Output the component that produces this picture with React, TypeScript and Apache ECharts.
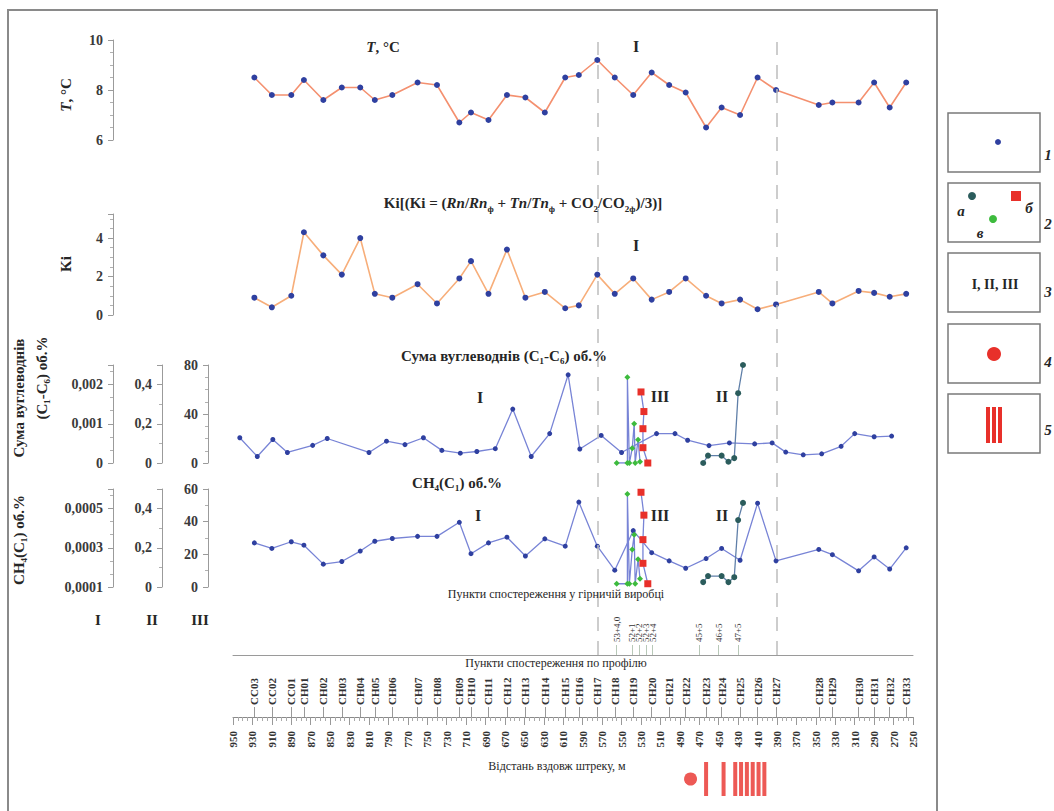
import React, { useEffect, useRef } from "react";
import * as echarts from "echarts";

const FONT = "'Liberation Serif', 'DejaVu Serif', serif";

// ---------- data ----------
const stations = ["CC03","CC02","CC01","CH01","CH02","CH03","CH04","CH05","CH06","CH07","CH08","CH09","CH10","CH11","CH12","CH13","CH14","CH15","CH16","CH17","CH18","CH19","CH20","CH21","CH22","CH23","CH24","CH25","CH26","CH27","CH28","CH29","CH30","CH31","CH32","CH33"];
const stationDist = [928, 910, 890, 877, 857, 838, 819, 804, 786, 760, 740, 717, 705, 687, 668, 649, 629, 608, 594, 575, 557, 538, 519, 501, 484, 463, 447, 428, 410, 391, 347, 333, 306, 290, 274, 257];
const temperature = [8.5, 7.8, 7.8, 8.4, 7.6, 8.1, 8.1, 7.6, 7.8, 8.3, 8.2, 6.7, 7.1, 6.8, 7.8, 7.7, 7.1, 8.5, 8.6, 9.2, 8.5, 7.8, 8.7, 8.2, 7.9, 6.5, 7.3, 7.0, 8.5, 8.0, 7.4, 7.5, 7.5, 8.3, 7.3, 8.3];
const kiIndex = [0.9, 0.4, 1.0, 4.3, 3.1, 2.1, 4.0, 1.1, 0.9, 1.6, 0.6, 1.9, 2.8, 1.1, 3.4, 0.9, 1.2, 0.35, 0.5, 2.1, 1.1, 1.9, 0.8, 1.2, 1.9, 1.0, 0.6, 0.8, 0.3, 0.55, 1.2, 0.6, 1.25, 1.15, 0.95, 1.1];
const ch4Values = [27, 23.6, 27.7, 25.6, 14, 15.6, 22, 28, 29.7, 31, 31, 39.6, 20.4, 27, 30.5, 19, 29.5, 25, 52, 25, 10.3, 34.5, 21, 16, 11.5, 17.4, 23.6, 16.4, 51.3, 16, 23, 19.8, 9.9, 18.4, 11, 24];

const hcDist = [943, 925, 909, 894, 868, 853, 810, 792, 773, 754, 735, 716, 699, 680, 662, 643, 624, 605, 593, 571, 550, 514, 495, 482, 460, 439, 413, 395, 381, 363, 344, 324, 310, 290, 272];
const hcValues = [20.6, 5.3, 19.2, 8.6, 14.4, 20, 8.6, 17.8, 15, 20.6, 10.3, 8, 9.4, 11.7, 44, 5.3, 24, 72, 11.4, 22.5, 8.6, 24, 24, 18.6, 14.2, 16.4, 15.6, 16.4, 8.9, 6.7, 7.5, 13.6, 24, 21.4, 22];

// observation points in the mine working (groups "в" green, "б" red, "а" teal)
const mineGreenDist = [555, 544, 544, 542, 539, 537, 536, 533, 531];
const mineGreenHc = [0, 0, 70, 0, 12, 32, 0, 19, 1];
const mineGreenCh4 = [2, 2, 57, 2, 23, 32, 2, 17, 5];
const mineRedDist = [530, 527, 528, 528, 523];
const mineRedHc = [58, 42, 28, 12.5, 0];
const mineRedCh4 = [58, 44, 29, 14.5, 2];
const mineTealDist = [466, 461, 447, 440, 434, 430, 425];
const mineTealHc = [0, 6, 6, 1, 4, 57, 80];
const mineTealCh4 = [3, 6.7, 6.7, 3, 6, 41, 51.5];

const mineLabelDist = [555, 539, 532, 525, 518, 470, 450, 430, 421];
const mineLabelNames = ["53+4,0", "52+1", "52+2", "52+3", "52+4", "45+5", "46+5", "47+5", "48+5"];

const boundaryDist = [575, 390];
const faultDist = [463, 445, 433, 427, 421, 415, 409, 403];
const anomalyDist = [479];

// ---------- helpers ----------
const pairs = (xs: number[], ys: number[]) => xs.map((x, i) => [x, ys[i]]);
const comma = (v: number) => String(+v.toFixed(6)).replace(".", ",");

const LINE_BLUE = "#7884d6";
const DOT_BLUE = "#2f40a0";
const GREEN = "#3dbb3d";
const RED = "#e8302a";
const TEAL = "#2b5c5c";

const distAxis = (gridIndex: number, extra: any = {}) => ({
  type: "value",
  gridIndex,
  min: 250,
  max: 950,
  inverse: true,
  show: false,
  splitLine: { show: false },
  ...extra,
});

const yAx = (gridIndex: number, min: number, max: number, interval: number, offset: number, split: number, showMax: boolean, fmt?: any) => ({
  type: "value",
  gridIndex,
  min,
  max,
  interval,
  offset,
  position: "left",
  axisLine: { show: true, lineStyle: { color: "#9b9b9b", width: 1 } },
  axisTick: { show: true, length: 5, lineStyle: { color: "#9b9b9b" } },
  minorTick: { show: true, splitNumber: split, length: 3, lineStyle: { color: "#b0b0b0" } },
  splitLine: { show: false },
  minorSplitLine: { show: false },
  axisLabel: {
    show: true,
    margin: 10,
    color: "#3a3a3a",
    fontFamily: FONT,
    fontSize: 14,
    fontWeight: "bold",
    showMaxLabel: showMax ? null : false,
    formatter: fmt || ((v: number) => comma(v)),
  },
});

const lineSeries = (name: string, xi: number, yi: number, data: any[], lineColor: string, dotColor: string, symbol = "circle", size = 5, width = 1.3) => ({
  name,
  type: "line",
  xAxisIndex: xi,
  yAxisIndex: yi,
  data,
  symbol,
  symbolSize: size,
  showSymbol: true,
  lineStyle: { color: lineColor, width },
  itemStyle: { color: dotColor },
  silent: true,
});

const txt = (x: number, y: number, text: string, o: any = {}) => ({
  type: "text",
  x,
  y,
  rotation: o.rot || 0,
  silent: true,
  z: 10,
  style: {
    text,
    fill: o.color || "#262626",
    fontFamily: FONT,
    fontSize: o.size || 14,
    fontWeight: o.weight || "bold",
    fontStyle: o.style || "normal",
    textAlign: o.align || "center",
    align: o.align || "center",
    textVerticalAlign: "middle",
    verticalAlign: "middle",
    lineHeight: o.lineHeight,
    rich: o.rich,
  },
});

const richItalic = (size: number) => ({ fontFamily: FONT, fontSize: size, fontWeight: "bold", fontStyle: "italic", fill: "#262626", lineHeight: 20 });

function buildOption() {
  const grids = [
    { left: 233, width: 680, top: 42, height: 613 }, // overlay
    { left: 233, width: 680, top: 40, height: 100 }, // T
    { left: 233, width: 680, top: 214, height: 101 }, // Ki
    { left: 233, width: 680, top: 365, height: 98 }, // HC
    { left: 233, width: 680, top: 489, height: 98 }, // CH4
    { left: 233, width: 680, top: 660, height: 57 }, // profile
    { left: 233, width: 680, top: 761, height: 36 }, // faults
  ];

  const xAxis = [
    distAxis(0, {
      show: true,
      position: "bottom",
      axisLine: { show: true, lineStyle: { color: "#9a9a9a", width: 1 } },
      axisTick: { show: true, inside: true, length: 10, customValues: mineLabelDist, lineStyle: { color: "#b8c8b8" } },
      minorTick: { show: false },
      axisLabel: {
        show: true,
        inside: true,
        rotate: 90,
        margin: 13,
        customValues: mineLabelDist,
        color: "#333",
        fontFamily: FONT,
        fontSize: 9,
        formatter: (v: number) => mineLabelNames[mineLabelDist.indexOf(v)] ?? "",
      },
    }),
    distAxis(1),
    distAxis(2),
    distAxis(3),
    distAxis(4),
    distAxis(5, {
      show: true,
      position: "bottom",
      interval: 20,
      axisLine: { show: true, lineStyle: { color: "#8a8a8a", width: 1 } },
      axisTick: { show: true, length: 8, lineStyle: { color: "#999" } },
      minorTick: { show: true, splitNumber: 4, length: 4, lineStyle: { color: "#aaa" } },
      axisLabel: {
        show: true,
        rotate: 90,
        margin: 14,
        color: "#333",
        fontFamily: FONT,
        fontSize: 11,
        fontWeight: "bold",
        formatter: (v: number) => String(Math.round(v)),
      },
    }),
    distAxis(5, {
      show: true,
      position: "bottom",
      axisLine: { show: false },
      axisTick: { show: true, inside: true, length: 10, customValues: stationDist, lineStyle: { color: "#999" } },
      minorTick: { show: false },
      axisLabel: {
        show: true,
        inside: true,
        rotate: 90,
        margin: 12,
        customValues: stationDist,
        color: "#333",
        fontFamily: FONT,
        fontSize: 11,
        fontWeight: "bold",
        formatter: (v: number) => stations[stationDist.indexOf(v)] ?? "",
      },
    }),
    distAxis(6),
  ];

  const yAxis = [
    { type: "value", gridIndex: 0, min: 0, max: 1, show: false },
    yAx(1, 6, 10, 2, 120, 4, true, (v: number) => String(v)),
    yAx(2, 0, 5.25, 2, 120, 4, false, (v: number) => String(v)),
    yAx(3, 0, 0.0025, 0.001, 120, 3, false),
    yAx(3, 0, 0.5, 0.2, 71, 2, false),
    yAx(3, 0, 80, 40, 25, 4, true, (v: number) => String(v)),
    yAx(4, 0.0001, 0.0006, 0.0002, 120, 3, false, (v: number) => comma(v)),
    yAx(4, 0, 0.5, 0.2, 71, 2, false),
    yAx(4, 0, 60, 20, 25, 2, true, (v: number) => String(v)),
    { type: "value", gridIndex: 5, min: 0, max: 1, show: false },
    { type: "value", gridIndex: 6, min: 0, max: 1, show: false },
  ];

  const series: any[] = [
    {
      type: "line",
      xAxisIndex: 0,
      yAxisIndex: 0,
      data: [[boundaryDist[0], -1]],
      showSymbol: false,
      symbol: "none",
      lineStyle: { opacity: 0 },
      silent: true,
      markLine: {
        silent: true,
        symbol: ["none", "none"],
        label: { show: false },
        lineStyle: { type: [14, 10], color: "#bdbdbd", width: 1.5 },
        data: boundaryDist.map((d) => ({ xAxis: d })),
      },
    },
    lineSeries("T", 1, 1, pairs(stationDist, temperature), "#f4906f", DOT_BLUE, "circle", 6, 1.6),
    lineSeries("Ki", 2, 2, pairs(stationDist, kiIndex), "#f7ae7a", DOT_BLUE, "circle", 6, 1.6),
    lineSeries("HC", 3, 5, pairs(hcDist, hcValues), LINE_BLUE, DOT_BLUE, "circle", 5),
    lineSeries("HC в", 3, 5, pairs(mineGreenDist, mineGreenHc), LINE_BLUE, GREEN, "diamond", 6),
    lineSeries("HC б", 3, 5, pairs(mineRedDist, mineRedHc), LINE_BLUE, RED, "rect", 7),
    lineSeries("HC а", 3, 5, pairs(mineTealDist, mineTealHc), "#5f7fa8", TEAL, "circle", 6),
    lineSeries("CH4", 4, 8, pairs(stationDist, ch4Values), LINE_BLUE, DOT_BLUE, "circle", 5),
    lineSeries("CH4 в", 4, 8, pairs(mineGreenDist, mineGreenCh4), LINE_BLUE, GREEN, "diamond", 6),
    lineSeries("CH4 б", 4, 8, pairs(mineRedDist, mineRedCh4), LINE_BLUE, RED, "rect", 7),
    lineSeries("CH4 а", 4, 8, pairs(mineTealDist, mineTealCh4), "#5f7fa8", TEAL, "circle", 6),
    {
      type: "scatter",
      xAxisIndex: 7,
      yAxisIndex: 10,
      data: faultDist.map((d) => [d, 0.5]),
      symbol: "rect",
      symbolSize: [4, 34],
      itemStyle: { color: RED },
      silent: true,
    },
    {
      type: "scatter",
      xAxisIndex: 7,
      yAxisIndex: 10,
      data: anomalyDist.map((d) => [d, 0.5]),
      symbol: "circle",
      symbolSize: 13,
      itemStyle: { color: RED },
      silent: true,
    },
  ];

  const legendBoxes = [113, 183, 253, 324, 394].map((y) => ({
    type: "rect",
    shape: { x: 948, y, width: 92, height: 59 },
    style: { fill: "#fff", stroke: "#7a7a7a", lineWidth: 1.5 },
    silent: true,
    z: 5,
  }));

  const graphic: any[] = [
    { type: "rect", shape: { x: 8, y: 10, width: 929, height: 812 }, style: { fill: "none", stroke: "#8a8a8a", lineWidth: 2 }, silent: true, z: 1 },
    // panel titles
    txt(383, 47, "{i|T}, °C", { size: 15, rich: { i: richItalic(15) } }),
    txt(523, 203, "Ki[(Ki = ({i|Rn}/{i|Rn}{s|ф} + {i|Tn}/{i|Tn}{s|ф} + CO{s|2}/CO{s|2ф})/3)]", {
      size: 15,
      lineHeight: 20,
      rich: {
        i: richItalic(15),
        s: { fontFamily: FONT, fontSize: 9, fontWeight: "bold", fill: "#262626", lineHeight: 20, verticalAlign: "bottom" },
      },
    }),
    txt(504, 356, "Сума вуглеводнів (C₁-C₆) об.%", { size: 15 }),
    txt(457, 483, "CH₄(C₁) об.%", { size: 15 }),
    txt(556, 594, "Пункти спостереження у гірничій виробці", { size: 12, weight: "normal" }),
    txt(556, 663, "Пункти спостереження по профілю", { size: 12, weight: "normal" }),
    txt(557, 766, "Відстань вздовж штреку, м", { size: 12, weight: "normal" }),
    // zone numerals
    txt(636, 46, "I", { size: 16 }),
    txt(636, 245, "I", { size: 16 }),
    txt(480, 397, "I", { size: 16 }),
    txt(660, 396, "III", { size: 16 }),
    txt(722, 396, "II", { size: 16 }),
    txt(478, 515, "I", { size: 16 }),
    txt(660, 515, "III", { size: 16 }),
    txt(722, 515, "II", { size: 16 }),
    // axis titles (rotated)
    txt(66, 95, "{i|T}, °C", { size: 15, rot: Math.PI / 2, rich: { i: richItalic(15) } }),
    txt(66, 264, "Ki", { size: 15, rot: Math.PI / 2 }),
    txt(19, 398, "Сума вуглеводнів", { size: 15, rot: Math.PI / 2 }),
    txt(42, 378, "(C₁-C₆) об.%", { size: 15, rot: Math.PI / 2 }),
    txt(19, 540, "CH₄(C₁) об.%", { size: 15, rot: Math.PI / 2 }),
    txt(98, 620, "I", { size: 15 }),
    txt(152, 620, "II", { size: 15 }),
    txt(200, 620, "III", { size: 15 }),
    // legend
    ...legendBoxes,
    { type: "circle", shape: { cx: 998, cy: 142, r: 3 }, style: { fill: DOT_BLUE }, silent: true, z: 6 },
    { type: "circle", shape: { cx: 972, cy: 196, r: 4 }, style: { fill: TEAL }, silent: true, z: 6 },
    { type: "rect", shape: { x: 1011, y: 191, width: 10, height: 10 }, style: { fill: RED }, silent: true, z: 6 },
    { type: "circle", shape: { cx: 993, cy: 219, r: 4 }, style: { fill: GREEN }, silent: true, z: 6 },
    txt(961, 211, "а", { size: 15, style: "italic" }),
    txt(1029, 208, "б", { size: 15, style: "italic" }),
    txt(980, 233, "в", { size: 15, style: "italic" }),
    txt(995, 284, "I, II, III", { size: 14 }),
    { type: "circle", shape: { cx: 994, cy: 354, r: 7 }, style: { fill: RED }, silent: true, z: 6 },
    { type: "rect", shape: { x: 986, y: 407, width: 4, height: 36 }, style: { fill: RED }, silent: true, z: 6 },
    { type: "rect", shape: { x: 992, y: 407, width: 4, height: 36 }, style: { fill: RED }, silent: true, z: 6 },
    { type: "rect", shape: { x: 998, y: 407, width: 4, height: 36 }, style: { fill: RED }, silent: true, z: 6 },
    txt(1048, 155, "1", { size: 15, style: "italic" }),
    txt(1048, 224, "2", { size: 15, style: "italic" }),
    txt(1048, 292, "3", { size: 15, style: "italic" }),
    txt(1048, 362, "4", { size: 15, style: "italic" }),
    txt(1048, 430, "5", { size: 15, style: "italic" }),
  ];

  return {
    animation: false,
    backgroundColor: "#fff",
    textStyle: { fontFamily: FONT },
    grid: grids,
    xAxis,
    yAxis,
    series,
    graphic,
  };
}

export default function App() {
  const ref = useRef<HTMLDivElement>(null);
  useEffect(() => {
    if (!ref.current) return;
    const chart = echarts.init(ref.current, null, { renderer: "svg" });
    chart.setOption(buildOption() as any);
    return () => chart.dispose();
  }, []);
  return (
    <div
      ref={ref}
      style={{ position: "fixed", left: 0, top: 0, width: 1054, height: 811, background: "#fff" }}
    />
  );
}
